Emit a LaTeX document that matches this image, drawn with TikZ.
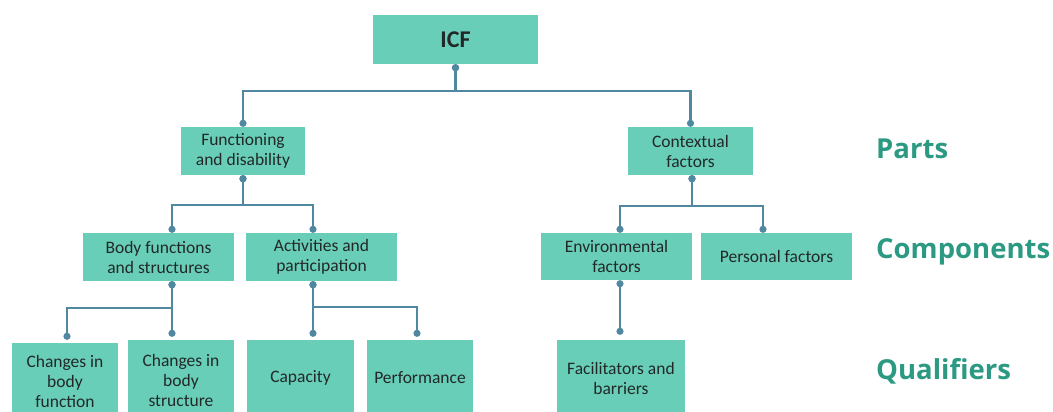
\documentclass[tikz,border=0pt]{standalone}
\usepackage{fontspec}
\setmainfont{Carlito}
\newfontfamily\labelfont{Open Sans}
\usetikzlibrary{arrows.meta}
\definecolor{boxfill}{RGB}{104,206,184}
\definecolor{linkcol}{RGB}{80,136,160}
\definecolor{levelcol}{RGB}{44,154,131}
\definecolor{boxtext}{RGB}{34,40,40}
\tikzset{
  box/.style={rectangle, fill=boxfill, inner sep=0pt, align=center,
    text=boxtext, font=\fontsize{17.5}{20}\selectfont},
  conn/.style={draw=linkcol, line width=2.2pt,
    {Circle[length=7pt,fill=linkcol]}-{Circle[length=7pt,fill=linkcol]}},
  level/.style={anchor=west, text=levelcol, inner sep=0pt,
    font=\labelfont\bfseries\fontsize{27.5}{32}\selectfont}
}
\begin{document}
\begin{tikzpicture}[x=1pt,y=-1pt]
\clip (0,0) rectangle (1053,412);
\fill[white] (0,0) rectangle (1053,412);

% root
\node[box, minimum width=165pt, minimum height=49pt,
      font=\bfseries\fontsize{24}{28}\selectfont] (icf) at (455.5,39.5) {ICF};

% parts
\node[box, minimum width=124pt, minimum height=48pt] (func) at (243,151) {Functioning\\and disability};
\node[box, minimum width=125pt, minimum height=48pt] (ctx) at (690.5,151) {Contextual\\factors};

% components
\node[box, minimum width=151pt, minimum height=48pt] (body) at (158.5,257) {Body functions\\and structures};
\node[box, minimum width=151pt, minimum height=48pt] (act) at (321.5,257) {Activities and\\participation};
\node[box, minimum width=151pt, minimum height=47pt] (env) at (616.5,256.5) {Environmental\\factors};
\node[box, minimum width=151pt, minimum height=47pt] (pers) at (776.5,256.5) {Personal factors};

% qualifiers
\node[box, minimum width=106pt, minimum height=77pt] (cbf) at (65,381.5) {Changes in\\body\\function};
\node[box, minimum width=106pt, minimum height=80pt] (cbs) at (181,380) {Changes in\\body\\structure};
\node[box, minimum width=107pt, minimum height=76pt] (cap) at (300.5,378) {Capacity};
\node[box, minimum width=106pt, minimum height=76pt] (perf) at (420,378) {Performance};
\node[box, minimum width=128pt, minimum height=76pt] (fac) at (621,378) {Facilitators and\\barriers};

% trunk positions of the connectors
\coordinate (tBody) at (172,0);
\coordinate (tAct) at (313,0);
\coordinate (tCbf) at (67,0);
\coordinate (tPerf) at (417,0);
\coordinate (tCtx) at (692,0);
\coordinate (tEnv) at (620,0);
\coordinate (tPers) at (763,0);

% connectors
\draw[conn] (icf.south) -- ++(0,27) -| (func.north);
\draw[conn] (icf.south) -- ++(0,27) -| (ctx.north);

\draw[conn] (func.south) -- ++(0,30) -| (body.north -| tBody);
\draw[conn] (func.south) -- ++(0,30) -| (act.north -| tAct);

\draw[conn] (ctx.south -| tCtx) -- ++(0,31) -| (env.north -| tEnv);
\draw[conn] (ctx.south -| tCtx) -- ++(0,31) -| (pers.north -| tPers);

\draw[conn] (body.south -| tBody) -- ++(0,27) -| ([yshift=3pt]cbf.north -| tCbf);
\draw[conn] (body.south -| tBody) -- ([yshift=3pt]cbs.north -| tBody);

\draw[conn] (act.south -| tAct) -- ([yshift=3pt]cap.north -| tAct);
\draw[conn] (act.south -| tAct) -- ++(0,26) -| ([yshift=3pt]perf.north -| tPerf);

\draw[conn] (env.south -| tEnv) -- ([yshift=5pt]fac.north -| tEnv);

% level labels
\node[level] (lparts) at (876,149) {Parts};
\node[level] (lcomp) at (876,252) {Components};
\node[level] (lqual) at (876,371) {Qualifiers};
\end{tikzpicture}
\end{document}
